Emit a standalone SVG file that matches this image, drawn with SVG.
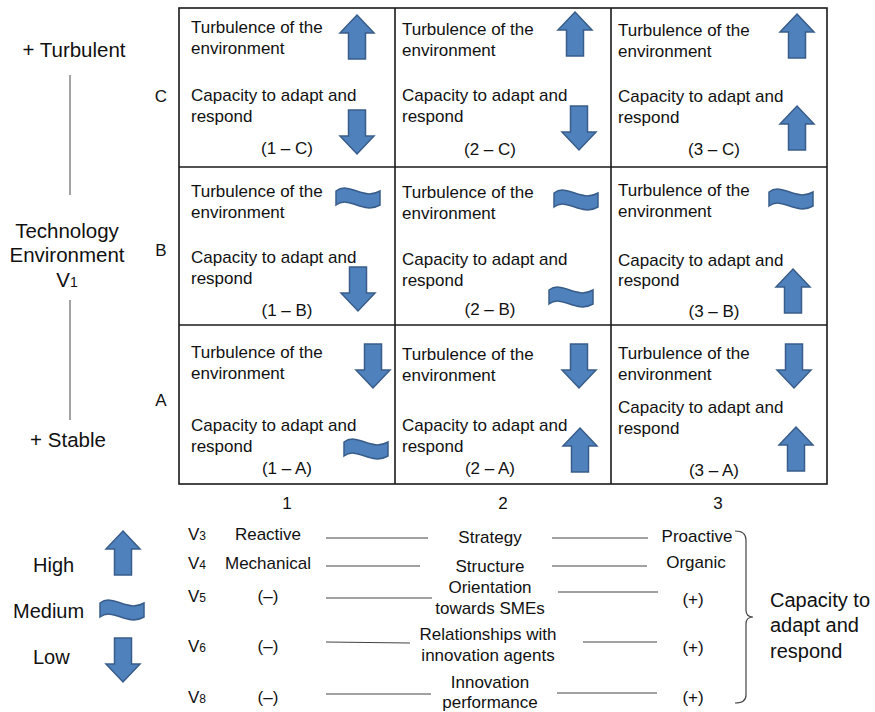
<svg xmlns="http://www.w3.org/2000/svg" xmlns:xlink="http://www.w3.org/1999/xlink" width="875" height="712" viewBox="0 0 875 712">
<style>
text{font-family:"Liberation Sans",Arial,sans-serif;fill:#111;}
.c{font-size:17px;}
.m{text-anchor:middle;}
.big{font-size:20px;}
.lft{font-size:20.5px;}
.grid{fill:none;stroke:#1a1a1a;stroke-width:1.6;}
.ax{stroke:#666;stroke-width:1.2;}
.ln{stroke:#444;stroke-width:1.2;fill:none;}
.sym{fill:#4F81BD;stroke:#385D8A;stroke-width:1.5;stroke-linejoin:miter;}
</style>
<defs>
<path id="up" class="sym" d="M17,0 L34,18 L25.5,18 L25.5,44 L8.5,44 L8.5,18 L0,18 Z"/>
<path id="down" class="sym" d="M8.5,0 L25.5,0 L25.5,26 L34,26 L17,44 L0,26 L8.5,26 Z"/>
<path id="wave" class="sym" d="M0,5 C13,-5 27,15 44,5 L44,19 C27,29 13,9 0,19 Z"/>
</defs>
<rect width="875" height="712" fill="#fff"/>

<g id="grid">
<rect class="grid" x="179" y="8" width="648" height="476"/>
<line class="grid" x1="395" y1="8" x2="395" y2="484"/>
<line class="grid" x1="611" y1="8" x2="611" y2="484"/>
<line class="grid" x1="179" y1="167" x2="827" y2="167"/>
<line class="grid" x1="179" y1="325" x2="827" y2="325"/>
</g>

<g id="axis-labels">
<text class="lft m" x="74" y="57">+ Turbulent</text>
<text class="lft m" x="67" y="238">Technology</text>
<text class="lft m" x="67" y="262">Environment</text>
<text class="lft m" x="67" y="287">V<tspan font-size="14">1</tspan></text>
<text class="lft m" x="68" y="447">+ Stable</text>
<text class="c m" x="161" y="102">C</text>
<text class="c m" x="161" y="256">B</text>
<text class="c m" x="161" y="406">A</text>
<text class="c m" x="287" y="509">1</text>
<text class="c m" x="503" y="509">2</text>
<text class="c m" x="718" y="509">3</text>
</g>

<g id="cell-1C">
<text class="c" x="191" y="33">Turbulence of the</text>
<text class="c" x="191" y="54">environment</text>
<text class="c" x="191" y="101">Capacity to adapt and</text>
<text class="c" x="191" y="122">respond</text>
<text class="c m" x="287" y="154">(1 – C)</text>
<use xlink:href="#up" x="340" y="15"/>
<use xlink:href="#down" x="340" y="110"/>
</g>
<g id="cell-2C">
<text class="c" x="402" y="35">Turbulence of the</text>
<text class="c" x="402" y="56">environment</text>
<text class="c" x="402" y="101">Capacity to adapt and</text>
<text class="c" x="402" y="122">respond</text>
<text class="c m" x="490" y="155">(2 – C)</text>
<use xlink:href="#up" x="558" y="12"/>
<use xlink:href="#down" x="562" y="106"/>
</g>
<g id="cell-3C">
<text class="c" x="618" y="36">Turbulence of the</text>
<text class="c" x="618" y="57">environment</text>
<text class="c" x="618" y="102">Capacity to adapt and</text>
<text class="c" x="618" y="123">respond</text>
<text class="c m" x="714" y="155">(3 – C)</text>
<use xlink:href="#up" x="780" y="14"/>
<use xlink:href="#up" x="780" y="106"/>
</g>

<g id="cell-1B">
<text class="c" x="191" y="197">Turbulence of the</text>
<text class="c" x="191" y="218">environment</text>
<text class="c" x="191" y="263">Capacity to adapt and</text>
<text class="c" x="191" y="284">respond</text>
<text class="c m" x="287" y="316">(1 – B)</text>
<use xlink:href="#wave" x="336" y="186"/>
<use xlink:href="#down" x="341" y="267"/>
</g>
<g id="cell-2B">
<text class="c" x="402" y="198">Turbulence of the</text>
<text class="c" x="402" y="219">environment</text>
<text class="c" x="402" y="265">Capacity to adapt and</text>
<text class="c" x="402" y="286">respond</text>
<text class="c m" x="490" y="315">(2 – B)</text>
<use xlink:href="#wave" x="554" y="188"/>
<use xlink:href="#wave" x="549" y="285"/>
</g>
<g id="cell-3B">
<text class="c" x="618" y="196">Turbulence of the</text>
<text class="c" x="618" y="217">environment</text>
<text class="c" x="618" y="266">Capacity to adapt and</text>
<text class="c" x="618" y="286">respond</text>
<text class="c m" x="714" y="317">(3 – B)</text>
<use xlink:href="#wave" x="769" y="187"/>
<use xlink:href="#up" x="776" y="269"/>
</g>

<g id="cell-1A">
<text class="c" x="191" y="358">Turbulence of the</text>
<text class="c" x="191" y="379">environment</text>
<text class="c" x="191" y="431">Capacity to adapt and</text>
<text class="c" x="191" y="452">respond</text>
<text class="c m" x="287" y="474">(1 – A)</text>
<use xlink:href="#down" x="356" y="344"/>
<use xlink:href="#wave" x="344" y="437"/>
</g>
<g id="cell-2A">
<text class="c" x="402" y="360">Turbulence of the</text>
<text class="c" x="402" y="381">environment</text>
<text class="c" x="402" y="431">Capacity to adapt and</text>
<text class="c" x="402" y="452">respond</text>
<text class="c m" x="490" y="474">(2 – A)</text>
<use xlink:href="#down" x="562" y="344"/>
<use xlink:href="#up" x="563" y="428"/>
</g>
<g id="cell-3A">
<text class="c" x="618" y="359">Turbulence of the</text>
<text class="c" x="618" y="380">environment</text>
<text class="c" x="618" y="413">Capacity to adapt and</text>
<text class="c" x="618" y="434">respond</text>
<text class="c m" x="714" y="476">(3 – A)</text>
<use xlink:href="#down" x="777" y="344"/>
<use xlink:href="#up" x="779" y="427"/>
</g>

<g id="legend">
<text class="big" x="33" y="572">High</text>
<use xlink:href="#up" x="106" y="531"/>
<text class="big" x="13" y="618">Medium</text>
<use xlink:href="#wave" x="100" y="598"/>
<text class="big" x="33" y="664">Low</text>
<use xlink:href="#down" x="106" y="638"/>
</g>

<g id="variables">
<text class="c" x="188" y="540">V<tspan font-size="12">3</tspan></text>
<text class="c m" x="268" y="540">Reactive</text>
<text class="c m" x="490" y="543">Strategy</text>
<text class="c m" x="697" y="542">Proactive</text>

<text class="c" x="188" y="569">V<tspan font-size="12">4</tspan></text>
<text class="c m" x="268" y="569">Mechanical</text>
<text class="c m" x="490" y="572">Structure</text>
<text class="c m" x="696" y="568">Organic</text>

<text class="c" x="188" y="602">V<tspan font-size="12">5</tspan></text>
<text class="c m" x="268" y="602">(–)</text>
<text class="c m" x="490" y="593">Orientation</text>
<text class="c m" x="490" y="614">towards SMEs</text>
<text class="c m" x="693" y="605">(+)</text>

<text class="c" x="188" y="652">V<tspan font-size="12">6</tspan></text>
<text class="c m" x="268" y="652">(–)</text>
<text class="c m" x="488" y="640">Relationships with</text>
<text class="c m" x="488" y="661">innovation agents</text>
<text class="c m" x="693" y="653">(+)</text>

<text class="c" x="188" y="703">V<tspan font-size="12">8</tspan></text>
<text class="c m" x="268" y="703">(–)</text>
<text class="c m" x="490" y="688">Innovation</text>
<text class="c m" x="490" y="708">performance</text>
<text class="c m" x="693" y="703">(+)</text>

<text class="big" x="770" y="607">Capacity to</text>
<text class="big" x="770" y="632">adapt and</text>
<text class="big" x="770" y="658">respond</text>
</g>

<g id="connectors">
<line class="ax" x1="70" y1="75" x2="70" y2="195"/>
<line class="ax" x1="70" y1="300" x2="70" y2="420"/>
<line class="ln" x1="326" y1="538" x2="428" y2="538"/>
<line class="ln" x1="552" y1="538" x2="648" y2="538"/>
<line class="ln" x1="326" y1="566" x2="420" y2="566"/>
<line class="ln" x1="552" y1="566" x2="647" y2="566"/>
<line class="ln" x1="326" y1="598" x2="432" y2="598"/>
<line class="ln" x1="558" y1="592" x2="658" y2="592"/>
<line class="ln" x1="326" y1="642" x2="410" y2="643"/>
<line class="ln" x1="583" y1="642" x2="657" y2="642"/>
<line class="ln" x1="326" y1="694" x2="431" y2="694"/>
<line class="ln" x1="557" y1="693" x2="657" y2="693"/>
<path class="ln" d="M735,531 Q746,531 746,540 L746,610 Q746,617 753,617 Q746,617 746,624 L746,695 Q746,703 735,703"/>
</g>
</svg>
